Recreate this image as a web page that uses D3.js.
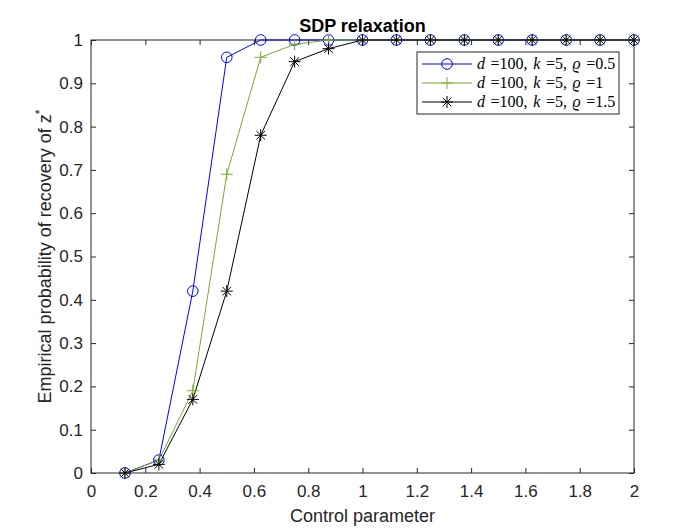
<!DOCTYPE html>
<html>
<head>
<meta charset="utf-8">
<script src="https://cdn.jsdelivr.net/npm/d3@7"></script>
<style>
  body { margin: 0; background: #fff; }
  text { font-family: "Liberation Sans", Arial, sans-serif; }
</style>
</head>
<body>
<script>
// control parameter values
const xs = [0.125, 0.25, 0.375, 0.5, 0.625, 0.75, 0.875, 1, 1.125, 1.25, 1.375, 1.5, 1.625, 1.75, 1.875, 2];
const rho05 = [0, 0.03, 0.42, 0.96, 1, 1, 1, 1, 1, 1, 1, 1, 1, 1, 1, 1];
const rho1 = [0, 0.03, 0.19, 0.69, 0.96, 0.99, 1, 1, 1, 1, 1, 1, 1, 1, 1, 1];
const rho15 = [0, 0.02, 0.17, 0.42, 0.78, 0.95, 0.98, 1, 1, 1, 1, 1, 1, 1, 1, 1];
const xTicks = [0, 0.2, 0.4, 0.6, 0.8, 1, 1.2, 1.4, 1.6, 1.8, 2];
const yTicks = [0, 0.1, 0.2, 0.3, 0.4, 0.5, 0.6, 0.7, 0.8, 0.9, 1];
const rhoLabels = ['0.5', '1', '1.5'];

const series = [
  { values: rho05, color: '#0000ff', marker: 'circle', rho: rhoLabels[0] },
  { values: rho1, color: '#77ac30', marker: 'plus', rho: rhoLabels[1] },
  { values: rho15, color: '#000000', marker: 'star', rho: rhoLabels[2] }
];

const W = 700, H = 532;
const M = { left: 91, right: 634, top: 40, bottom: 473 };
const axisColor = '#262626';

const svg = d3.select('body').append('svg')
  .attr('width', W).attr('height', H);

const x = d3.scaleLinear().domain([0, 2]).range([M.left, M.right]);
const y = d3.scaleLinear().domain([0, 1]).range([M.bottom, M.top]);

// axes box
svg.append('rect')
  .attr('x', M.left).attr('y', M.top)
  .attr('width', M.right - M.left).attr('height', M.bottom - M.top)
  .attr('fill', '#fff').attr('stroke', axisColor).attr('stroke-width', 1);

const fmt = d => d3.format('')(+d.toFixed(1));

const xAxis = svg.append('g')
  .attr('transform', `translate(0,${M.bottom})`)
  .call(d3.axisBottom(x).tickValues(xTicks).tickSize(-5).tickPadding(12).tickFormat(fmt));
const xTop = svg.append('g')
  .attr('transform', `translate(0,${M.top})`)
  .call(d3.axisTop(x).tickValues(xTicks).tickSize(-5).tickFormat(''));
const yAxis = svg.append('g')
  .attr('transform', `translate(${M.left},0)`)
  .call(d3.axisLeft(y).tickValues(yTicks).tickSize(-5).tickPadding(8).tickFormat(fmt));
const yRight = svg.append('g')
  .attr('transform', `translate(${M.right},0)`)
  .call(d3.axisRight(y).tickValues(yTicks).tickSize(-5).tickFormat(''));

[xAxis, xTop, yAxis, yRight].forEach(g => {
  g.select('.domain').remove();
  g.selectAll('line').attr('stroke', axisColor);
  g.selectAll('text').attr('fill', axisColor)
    .style('font-family', '"Liberation Sans", Arial, sans-serif')
    .style('font-size', '17px');
});

// series
const line = d3.line().x((d, i) => x(xs[i])).y(d => y(d));

function drawMarker(g, type, cx, cy, color) {
  if (type === 'circle') {
    g.append('circle').attr('cx', cx).attr('cy', cy).attr('r', 5.3)
      .attr('fill', 'none').attr('stroke', color).attr('stroke-width', 1);
  } else if (type === 'plus') {
    g.append('path')
      .attr('d', `M${cx - 6},${cy}H${cx + 6}M${cx},${cy - 6}V${cy + 6}`)
      .attr('stroke', color).attr('stroke-width', 1);
  } else {
    const r = 6, d = 4.3;
    g.append('path')
      .attr('d', `M${cx - r},${cy}H${cx + r}M${cx},${cy - r}V${cy + r}` +
        `M${cx - d},${cy - d}L${cx + d},${cy + d}M${cx - d},${cy + d}L${cx + d},${cy - d}`)
      .attr('stroke', color).attr('stroke-width', 1);
  }
}

const plot = svg.append('g');
series.forEach(s => {
  plot.append('path').datum(s.values)
    .attr('d', line).attr('fill', 'none')
    .attr('stroke', s.color).attr('stroke-width', 1);
});
series.forEach(s => {
  const g = plot.append('g');
  s.values.forEach((v, i) => drawMarker(g, s.marker, x(xs[i]), y(v), s.color));
});

// legend
const lg = svg.append('g');
lg.append('rect').attr('x', 417).attr('y', 52).attr('width', 202).attr('height', 62)
  .attr('fill', '#fff').attr('stroke', axisColor).attr('stroke-width', 1);
series.forEach((s, i) => {
  const ly = 64 + i * 19;
  lg.append('line').attr('x1', 422).attr('x2', 472).attr('y1', ly).attr('y2', ly)
    .attr('stroke', s.color).attr('stroke-width', 1);
  drawMarker(lg, s.marker, 447, ly, s.color);
  const t = lg.append('text').attr('x', 477).attr('y', ly + 5)
    .style('font-family', '"Liberation Serif", "DejaVu Serif", serif')
    .style('font-size', '16px').style('word-spacing', '1.6px').attr('fill', '#000');
  t.append('tspan').style('font-style', 'italic').text('d');
  t.append('tspan').text(' =100, ');
  t.append('tspan').style('font-style', 'italic').text('k');
  t.append('tspan').text(' =5, ');
  t.append('tspan').style('font-style', 'italic').text('ϱ');
  t.append('tspan').text(' =' + s.rho);
});

// title and labels
svg.append('text').attr('x', (M.left + M.right) / 2).attr('y', 32)
  .attr('text-anchor', 'middle').attr('fill', '#000')
  .style('font-size', '18px').style('font-weight', 'bold')
  .text('SDP relaxation');

svg.append('text').attr('x', (M.left + M.right) / 2).attr('y', 522)
  .attr('text-anchor', 'middle').attr('fill', axisColor)
  .style('font-size', '18px')
  .text('Control parameter');

const yl = svg.append('text')
  .attr('transform', `translate(51,${(M.top + M.bottom) / 2}) rotate(-90)`)
  .attr('text-anchor', 'middle').attr('fill', axisColor)
  .style('font-size', '18px');
yl.append('tspan').text('Empirical probability of recovery of z');
yl.append('tspan').attr('dy', -7).style('font-size', '12px').text('*');
</script>
</body>
</html>
